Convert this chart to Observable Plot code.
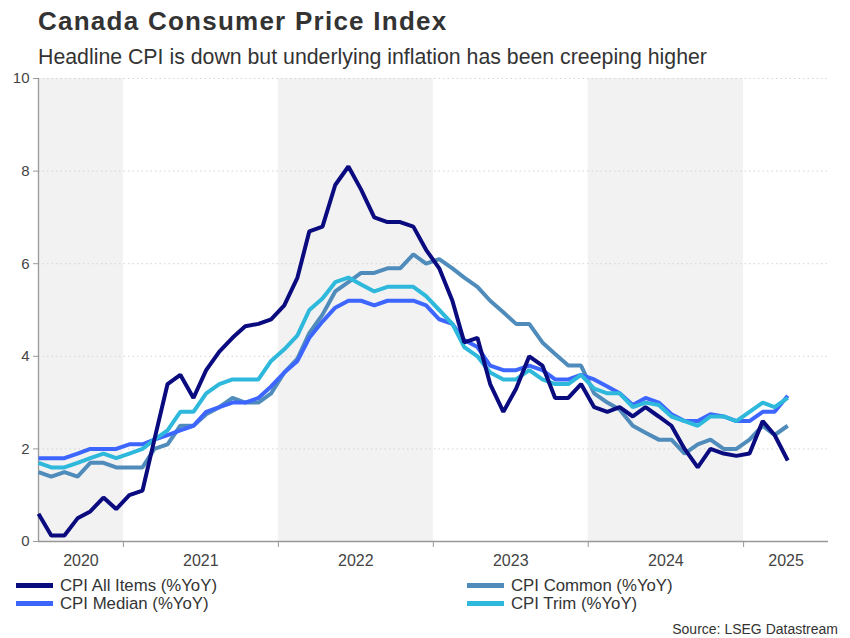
<!DOCTYPE html>
<html>
<head>
<meta charset="utf-8">
<script src="https://cdn.jsdelivr.net/npm/d3@7"></script>
<script src="https://cdn.jsdelivr.net/npm/@observablehq/plot@0.6"></script>
<style>
  body { margin: 0; background: #fff; font-family: "Liberation Sans", Arial, sans-serif; }
  #wrap { position: relative; width: 850px; height: 638px; overflow: hidden; background: #fff; }
  #chart { position: absolute; left: 0; top: 0; }
  #title { position: absolute; left: 38px; top: 6px; font-size: 26px; font-weight: bold; color: #333; letter-spacing: 1.25px; white-space: nowrap; }
  #subtitle { position: absolute; left: 38px; top: 45px; font-size: 21.3px; color: #333; white-space: nowrap; }
  .leg { position: absolute; font-size: 16.8px; color: #333; white-space: nowrap; line-height: 18px; }
  .sw { display: inline-block; width: 37px; height: 5px; vertical-align: middle; margin-right: 7px; position: relative; top: -1px; }
  #source { position: absolute; right: 12px; top: 621px; font-size: 14px; color: #333; white-space: nowrap; }
</style>
</head>
<body>
<div id="wrap">
  <div id="chart"></div>
  <div id="title">Canada Consumer Price Index</div>
  <div id="subtitle">Headline CPI is down but underlying inflation has been creeping higher</div>
  <div id="legend"></div>
  <div id="source">Source: LSEG Datastream</div>
</div>
<script>
// ---- Data (monthly, June 2020 to April 2025, % YoY) ----
const firstMonth = [2020, 6];   // year, month of first observation
const seriesNames = ["CPI All Items (%YoY)", "CPI Common (%YoY)", "CPI Median (%YoY)", "CPI Trim (%YoY)"];
const seriesColors = ["#0b0b80", "#4f8cbb", "#3d66ff", "#2eb8dc"];

const allItems = [
  0.6, 0.13, 0.13, 0.5, 0.65, 0.95, 0.7,
  1.0, 1.1, 2.2, 3.4, 3.6, 3.1, 3.7, 4.1, 4.4, 4.65, 4.7, 4.8,
  5.1, 5.7, 6.7, 6.8, 7.7, 8.1, 7.6, 7.0, 6.9, 6.9, 6.8, 6.3,
  5.9, 5.2, 4.3, 4.4, 3.4, 2.8, 3.3, 4.0, 3.8, 3.1, 3.1, 3.4,
  2.9, 2.8, 2.9, 2.7, 2.9, 2.7, 2.5, 2.0, 1.6, 2.0, 1.9, 1.85,
  1.9, 2.6, 2.3, 1.75
];
const common = [
  1.5, 1.4, 1.5, 1.4, 1.7, 1.7, 1.6,
  1.6, 1.6, 2.0, 2.1, 2.5, 2.5, 2.75, 2.9, 3.1, 3.0, 3.0, 3.2,
  3.65, 3.95, 4.5, 4.9, 5.4, 5.6, 5.8, 5.8, 5.9, 5.9, 6.2, 6.0,
  6.1, 5.9, 5.7, 5.5, 5.2, 4.95, 4.7, 4.7, 4.3, 4.05, 3.8, 3.8,
  3.2, 3.0, 2.85, 2.5, 2.35, 2.2, 2.2, 1.9, 2.1, 2.2, 2.0, 2.0,
  2.2, 2.5, 2.3, 2.5
];
const median = [
  1.8, 1.8, 1.8, 1.9, 2.0, 2.0, 2.0,
  2.1, 2.1, 2.2, 2.3, 2.4, 2.5, 2.8, 2.9, 3.0, 3.0, 3.1, 3.35,
  3.65, 3.9, 4.4, 4.75, 5.05, 5.2, 5.2, 5.1, 5.2, 5.2, 5.2, 5.1,
  4.8, 4.7, 4.35, 4.2, 3.8, 3.7, 3.7, 3.8, 3.7, 3.5, 3.5, 3.6,
  3.5, 3.35, 3.2, 2.95, 3.1, 3.0, 2.75, 2.6, 2.6, 2.75, 2.7, 2.6,
  2.6, 2.8, 2.8, 3.15
];
const trim = [
  1.7, 1.6, 1.6, 1.7, 1.8, 1.9, 1.8,
  1.9, 2.0, 2.2, 2.4, 2.8, 2.8, 3.2, 3.4, 3.5, 3.5, 3.5, 3.9,
  4.15, 4.45, 5.0, 5.25, 5.6, 5.7, 5.55, 5.4, 5.5, 5.5, 5.5, 5.3,
  5.0, 4.7, 4.2, 4.0, 3.65, 3.5, 3.5, 3.7, 3.5, 3.4, 3.4, 3.6,
  3.3, 3.2, 3.2, 2.9, 3.0, 2.95, 2.7, 2.6, 2.5, 2.7, 2.7, 2.6,
  2.8, 3.0, 2.9, 3.1
];
const years = [2020, 2021, 2022, 2023, 2024, 2025];
const shadedYears = [2020, 2022, 2024];
const yTicks = [0, 2, 4, 6, 8, 10];

// ---- Build table ----
const seriesValues = [allItems, common, median, trim];
const dateOf = i => new Date(Date.UTC(firstMonth[0], firstMonth[1] - 1 + i, 15));
const xStart = new Date(Date.UTC(2020, 5, 15));
const xEnd = new Date(Date.UTC(2025, 6, 20));
const rows = [];
seriesValues.forEach((vals, s) => vals.forEach((v, i) => rows.push({series: seriesNames[s], date: dateOf(i), value: v})));

const clampD = d => new Date(Math.min(Math.max(+d, +xStart), +xEnd));
const yearStart = y => new Date(Date.UTC(y, 0, 1));
const bands = shadedYears.map(y => ({x1: clampD(yearStart(y)), x2: clampD(yearStart(y + 1))}));
const boundaries = years.slice(1).map(yearStart);
const yearLabels = years.map(y => {
  const a = clampD(yearStart(y)), b = clampD(yearStart(y + 1));
  return {label: String(y), x: new Date((+a + +b) / 2)};
});

const drawOrder = [1, 2, 3, 0];

const plot = Plot.plot({
  width: 850,
  height: 570,
  marginTop: 78,
  marginLeft: 38,
  marginRight: 22,
  marginBottom: 29,
  style: {fontFamily: "'Liberation Sans', Arial, sans-serif", fontSize: "15px", color: "#444", background: "transparent", overflow: "visible"},
  x: {type: "utc", domain: [xStart, xEnd]},
  y: {domain: [0, 10]},
  marks: [
    Plot.rect(bands, {x1: "x1", x2: "x2", y1: 0, y2: 10, fill: "#f2f2f2"}),
    Plot.ruleY(yTicks.slice(1), {stroke: "#d4d4d4", strokeDasharray: "1.5,3", strokeWidth: 1}),
    Plot.axisY({ticks: yTicks, tickSize: 5, tickPadding: 4, stroke: "#999", fill: "#444", fontSize: 15, label: null}),
    Plot.axisX({ticks: boundaries, tickSize: 6, tickFormat: () => "", stroke: "#999", label: null}),
    Plot.ruleX([xStart], {y1: 0, y2: 10, stroke: "#999", strokeWidth: 1.3}),
    Plot.ruleY([0], {stroke: "#999", strokeWidth: 1.3}),
    Plot.text(yearLabels, {x: "x", y: 0, text: "label", dy: 19, fill: "#444", fontSize: 16}),
    ...drawOrder.map(s => Plot.line(rows.filter(r => r.series === seriesNames[s]), {
      x: "date", y: "value", stroke: seriesColors[s], strokeWidth: 4, strokeLinejoin: "miter", strokeLinecap: "butt"
    }))
  ]
});
document.getElementById("chart").appendChild(plot);

// ---- Legend ----
const legendPos = [[16, 577], [467, 577], [16, 595], [467, 595]];
const legend = document.getElementById("legend");
seriesNames.forEach((name, i) => {
  const d = document.createElement("div");
  d.className = "leg";
  d.style.left = legendPos[i][0] + "px";
  d.style.top = legendPos[i][1] + "px";
  d.innerHTML = `<span class="sw" style="background:${seriesColors[i]}"></span>${name}`;
  legend.appendChild(d);
});
</script>
</body>
</html>
